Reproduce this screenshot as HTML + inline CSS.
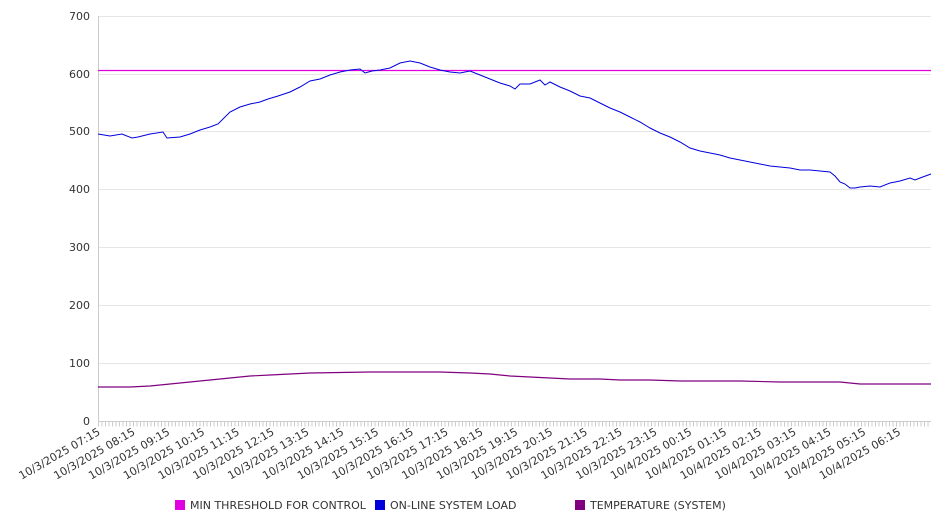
<!DOCTYPE html>
<html><head><style>body{margin:0;background:#fff}svg{display:block;font-family:"DejaVu Sans","Liberation Sans",sans-serif}</style></head><body>
<svg width="946" height="526" viewBox="0 0 946 526">
<g stroke="#e6e6e6" stroke-width="1">
<line x1="98" x2="931" y1="16.5" y2="16.5"/><line x1="98" x2="931" y1="74.5" y2="74.5"/><line x1="98" x2="931" y1="131.5" y2="131.5"/><line x1="98" x2="931" y1="189.5" y2="189.5"/><line x1="98" x2="931" y1="247.5" y2="247.5"/><line x1="98" x2="931" y1="305.5" y2="305.5"/><line x1="98" x2="931" y1="363.5" y2="363.5"/>
</g>
<line x1="98.5" x2="98.5" y1="16" y2="421" stroke="#ccc"/>
<line x1="98" x2="931" y1="421.5" y2="421.5" stroke="#ccc"/>
<line x1="98" x2="931" y1="424" y2="424" stroke="#ccc" stroke-width="5" stroke-dasharray="1 2.5"/>
<g font-size="11" fill="#333" text-anchor="end">
<text x="90" y="20">700</text><text x="90" y="78">600</text><text x="90" y="135">500</text><text x="90" y="193">400</text><text x="90" y="251">300</text><text x="90" y="309">200</text><text x="90" y="367">100</text><text x="90" y="425">0</text>
</g>
<g font-size="11" fill="#333" text-anchor="end">
<text transform="translate(101,434) rotate(-30)">10/3/2025 07:15</text>
<text transform="translate(135.8,434) rotate(-30)">10/3/2025 08:15</text>
<text transform="translate(170.6,434) rotate(-30)">10/3/2025 09:15</text>
<text transform="translate(205.4,434) rotate(-30)">10/3/2025 10:15</text>
<text transform="translate(240.2,434) rotate(-30)">10/3/2025 11:15</text>
<text transform="translate(275,434) rotate(-30)">10/3/2025 12:15</text>
<text transform="translate(309.8,434) rotate(-30)">10/3/2025 13:15</text>
<text transform="translate(344.6,434) rotate(-30)">10/3/2025 14:15</text>
<text transform="translate(379.4,434) rotate(-30)">10/3/2025 15:15</text>
<text transform="translate(414.2,434) rotate(-30)">10/3/2025 16:15</text>
<text transform="translate(449,434) rotate(-30)">10/3/2025 17:15</text>
<text transform="translate(483.8,434) rotate(-30)">10/3/2025 18:15</text>
<text transform="translate(518.6,434) rotate(-30)">10/3/2025 19:15</text>
<text transform="translate(553.4,434) rotate(-30)">10/3/2025 20:15</text>
<text transform="translate(588.2,434) rotate(-30)">10/3/2025 21:15</text>
<text transform="translate(623,434) rotate(-30)">10/3/2025 22:15</text>
<text transform="translate(657.8,434) rotate(-30)">10/3/2025 23:15</text>
<text transform="translate(692.6,434) rotate(-30)">10/4/2025 00:15</text>
<text transform="translate(727.4,434) rotate(-30)">10/4/2025 01:15</text>
<text transform="translate(762.2,434) rotate(-30)">10/4/2025 02:15</text>
<text transform="translate(797,434) rotate(-30)">10/4/2025 03:15</text>
<text transform="translate(831.8,434) rotate(-30)">10/4/2025 04:15</text>
<text transform="translate(866.6,434) rotate(-30)">10/4/2025 05:15</text>
<text transform="translate(901.4,434) rotate(-30)">10/4/2025 06:15</text>
</g>
<line x1="98" x2="931" y1="70.5" y2="70.5" stroke="#e000e0" stroke-width="1.2"/>
<polyline fill="none" stroke="#800080" stroke-width="1.2" points="98,387 130,387 150,386 170,384 190,382 210,380 230,378 250,376 270,375 290,374 310,373 340,372.5 370,372 440,372 470,373 490,374 510,376 530,377 550,378 570,379 600,379 620,380 650,380 680,381 740,381 780,382 840,382 860,384 931,384"/>
<polyline fill="none" stroke="#0000dd" stroke-width="1" points="98,134 110,136 122,134 132,138 138,137 150,134 163,132 167,138 180,137 190,134 200,130 210,127 218,124 230,112 240,107 250,104 260,102 268,99 278,96 290,92 300,87 310,81 320,79 330,75 340,72 350,70 360,69 365,73 372,71 380,70 390,68 400,63 410,61 420,63 430,67 440,70 450,72 460,73 470,71 480,75 490,79 500,83 510,86 515,89 520,84 530,84 540,80 545,85 550,82 560,87 570,91 580,96 590,98 600,103 610,108 620,112 630,117 640,122 650,128 660,133 670,137 680,142 690,148 700,151 710,153 720,155 730,158 740,160 750,162 760,164 770,166 780,167 790,168 800,170 810,170 820,171 830,172 835,176 840,182 845,184 850,188 855,188 860,187 870,186 880,187 890,183 900,181 910,178 915,180 920,178 931,174"/>
<g font-size="11" fill="#333">
<rect x="175" y="500" width="10" height="10" fill="#e000e0"/><text x="190" y="509">MIN THRESHOLD FOR CONTROL</text>
<rect x="375" y="500" width="10" height="10" fill="#0000dd"/><text x="390" y="509">ON-LINE SYSTEM LOAD</text>
<rect x="575" y="500" width="10" height="10" fill="#800080"/><text x="590" y="509">TEMPERATURE (SYSTEM)</text>
</g>
</svg>
</body></html>
